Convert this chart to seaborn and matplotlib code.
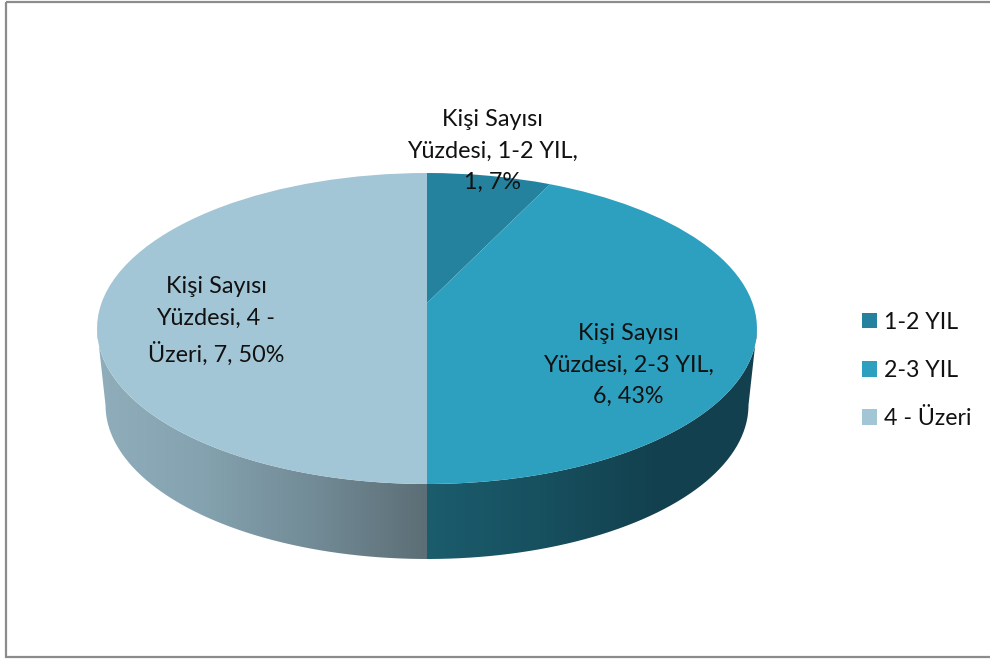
"""3D style pie of Kişi Sayısı Yüzdesi by years."""
import numpy as np
import matplotlib
matplotlib.use("Agg")
import matplotlib.pyplot as plt
import seaborn as sns
from matplotlib.colors import LinearSegmentedColormap
from matplotlib.patches import PathPatch, Rectangle
from matplotlib.path import Path
from matplotlib.transforms import Transform

categories = ["1-2 YIL", "2-3 YIL", "4 - Üzeri"]
counts = [1, 6, 7]
labels = ["Kişi Sayısı\nYüzdesi, 1-2 YIL,\n1, 7%",
          "Kişi Sayısı\nYüzdesi, 2-3 YIL,\n6, 43%",
          "Kişi Sayısı\nYüzdesi, 4 -\nÜzeri, 7, 50%"]
colors = ["#24829F", "#2DA0BF", "#A3C6D6"]
wall_left = ["#91AEBC", "#84A2AF", "#728B96", "#5C6E76"]
wall_right = ["#1B5C6D", "#17505F", "#13414F", "#13404E"]

sns.set_theme(style="white")
plt.rcParams["font.family"] = ["Lato", "DejaVu Sans"]

CX, CY_TILT = 427, 303  # where the slices meet on screen
TILT = 0.164


class Tilt(Transform):
    """Projects the flat unit pie onto the tilted disc, in pixel coordinates."""
    input_dims = output_dims = 2
    is_separable = False

    def transform_non_affine(self, values):
        u, v = np.asarray(values, float).T
        d = 1 + TILT * v
        return np.column_stack([CX + 325.5 * u / d, CY_TILT - 151.3 * v / d])


fig = plt.figure(figsize=(9.9, 6.6), dpi=100)
ax = fig.add_axes([0, 0, 1, 1])

wedges, _ = ax.pie(counts, colors=colors, startangle=90, counterclock=False, radius=1,
                   wedgeprops={"linewidth": 0, "zorder": 3})
tilt = Tilt() + ax.transData
for w in wedges:
    w.set_transform(tilt)
    w.set_clip_on(False)

ax.set_aspect("auto")
ax.set_axis_off()

# side wall of the disc
t = np.linspace(0, np.pi, 200)
top = np.column_stack([427 + 330 * np.cos(t), 328.5 + 155.5 * np.sin(t)])
bot = np.column_stack([427 + 321.5 * np.cos(t[::-1]), 405 + 154 * np.sin(t[::-1])])
wall = np.vstack([top, bot, top[:1]])
wall_clip = PathPatch(Path(wall), transform=ax.transData, fc="none", ec="none")
ax.add_patch(wall_clip)
for cols, x0, x1 in [(wall_left, 90, 427), (wall_right, 427, 765)]:
    cmap = LinearSegmentedColormap.from_list("wall", cols)
    im = ax.imshow(np.linspace(0, 1, 256)[None, :], cmap=cmap, extent=(x0, x1, 570, 320),
                   aspect="auto", zorder=1, interpolation="bilinear")
    im.set_clip_path(wall_clip)
ax.set_xlim(0, 990)
ax.set_ylim(660, 0)

# chart frame, runs off the right edge
ax.add_patch(Rectangle((5.5, 1.5), 1000, 655, fc="none", ec="#8C8C8C", lw=1.6, clip_on=True, zorder=5))

for txt, x, y in zip(labels, [492, 628, 216], [151, 365, 321]):
    ax.text(x, y, txt, ha="center", va="center", fontsize=16.8, color="#111111",
            linespacing=1.63, zorder=6)

ax.legend(wedges, categories, loc="center left", bbox_to_anchor=(862 / 990, 1 - 370.5 / 660),
          frameon=False, fontsize=16.7, borderpad=0, borderaxespad=0, handlelength=0.647,
          handleheight=0.647, handletextpad=0.3, labelspacing=1.17, labelcolor="#111111")

fig.savefig("out.png", dpi=100)
